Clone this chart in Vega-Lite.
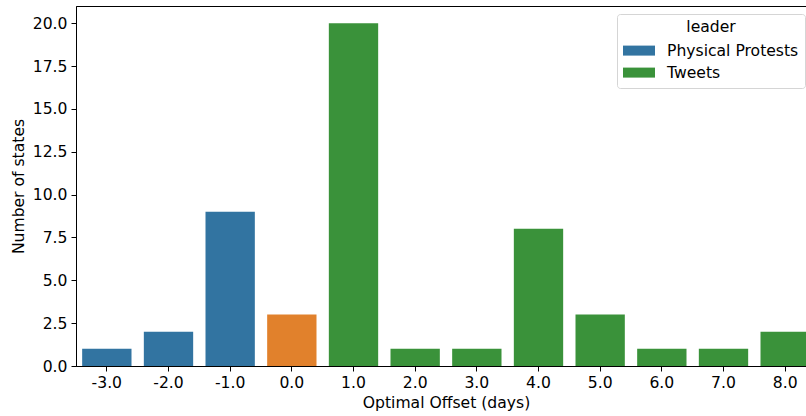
{
  "$schema": "https://vega.github.io/schema/vega-lite/v6.json",
  "width": 740,
  "height": 360,
  "autosize": {"type": "none"},
  "padding": {"left": 76, "top": 6, "right": 0, "bottom": 50},
  "background": "white",
  "config": {
    "font": "DejaVu Sans",
    "view": {"stroke": "black", "strokeWidth": 1},
    "axis": {
      "labelFont": "DejaVu Sans",
      "titleFont": "DejaVu Sans",
      "labelFontSize": 15.6,
      "titleFontSize": 15.6,
      "titleFontWeight": "normal",
      "labelColor": "black",
      "titleColor": "black",
      "domainColor": "black",
      "tickColor": "black",
      "tickSize": 5,
      "grid": false
    },
    "legend": {
      "labelFont": "DejaVu Sans",
      "titleFont": "DejaVu Sans"
    }
  },
  "data": {
    "values": [
      {"offset": "-3.0", "states": 1, "leader": "Physical Protests"},
      {"offset": "-2.0", "states": 2, "leader": "Physical Protests"},
      {"offset": "-1.0", "states": 9, "leader": "Physical Protests"},
      {"offset": "0.0", "states": 3, "leader": "None"},
      {"offset": "1.0", "states": 20, "leader": "Tweets"},
      {"offset": "2.0", "states": 1, "leader": "Tweets"},
      {"offset": "3.0", "states": 1, "leader": "Tweets"},
      {"offset": "4.0", "states": 8, "leader": "Tweets"},
      {"offset": "5.0", "states": 3, "leader": "Tweets"},
      {"offset": "6.0", "states": 1, "leader": "Tweets"},
      {"offset": "7.0", "states": 1, "leader": "Tweets"},
      {"offset": "8.0", "states": 2, "leader": "Tweets"}
    ]
  },
  "mark": {"type": "bar"},
  "encoding": {
    "x": {
      "field": "offset",
      "type": "nominal",
      "sort": null,
      "scale": {"paddingInner": 0.2, "paddingOuter": 0.1},
      "axis": {
        "title": "Optimal Offset (days)",
        "labelAngle": 0,
        "labelPadding": 4,
        "titlePadding": 5
      }
    },
    "y": {
      "field": "states",
      "type": "quantitative",
      "scale": {"domain": [0, 21], "nice": false},
      "axis": {
        "title": "Number of states",
        "values": [0, 2.5, 5, 7.5, 10, 12.5, 15, 17.5, 20],
        "format": ".1f",
        "labelPadding": 4,
        "titlePadding": 6
      }
    },
    "color": {
      "field": "leader",
      "type": "nominal",
      "scale": {
        "domain": ["Physical Protests", "Tweets", "None"],
        "range": ["#3274a1", "#3a923a", "#e1812c"]
      },
      "legend": {
        "title": "leader",
        "values": ["Physical Protests", "Tweets"],
        "orient": "none",
        "legendX": 541,
        "legendY": 8,
        "padding": 6,
        "cornerRadius": 3,
        "strokeColor": "#d5d5d5",
        "fillColor": "white",
        "titleFontSize": 15.6,
        "titleFontWeight": "normal",
        "titleColor": "black",
        "titleAnchor": "middle",
        "titlePadding": 5,
        "labelFontSize": 15.6,
        "labelColor": "black",
        "rowPadding": 3,
        "symbolType": "M-1.6,-0.5h3.2v1h-3.2z",
        "symbolSize": 400,
        "symbolStrokeWidth": 0,
        "symbolOffset": 6,
        "labelOffset": 18
      }
    }
  }
}
